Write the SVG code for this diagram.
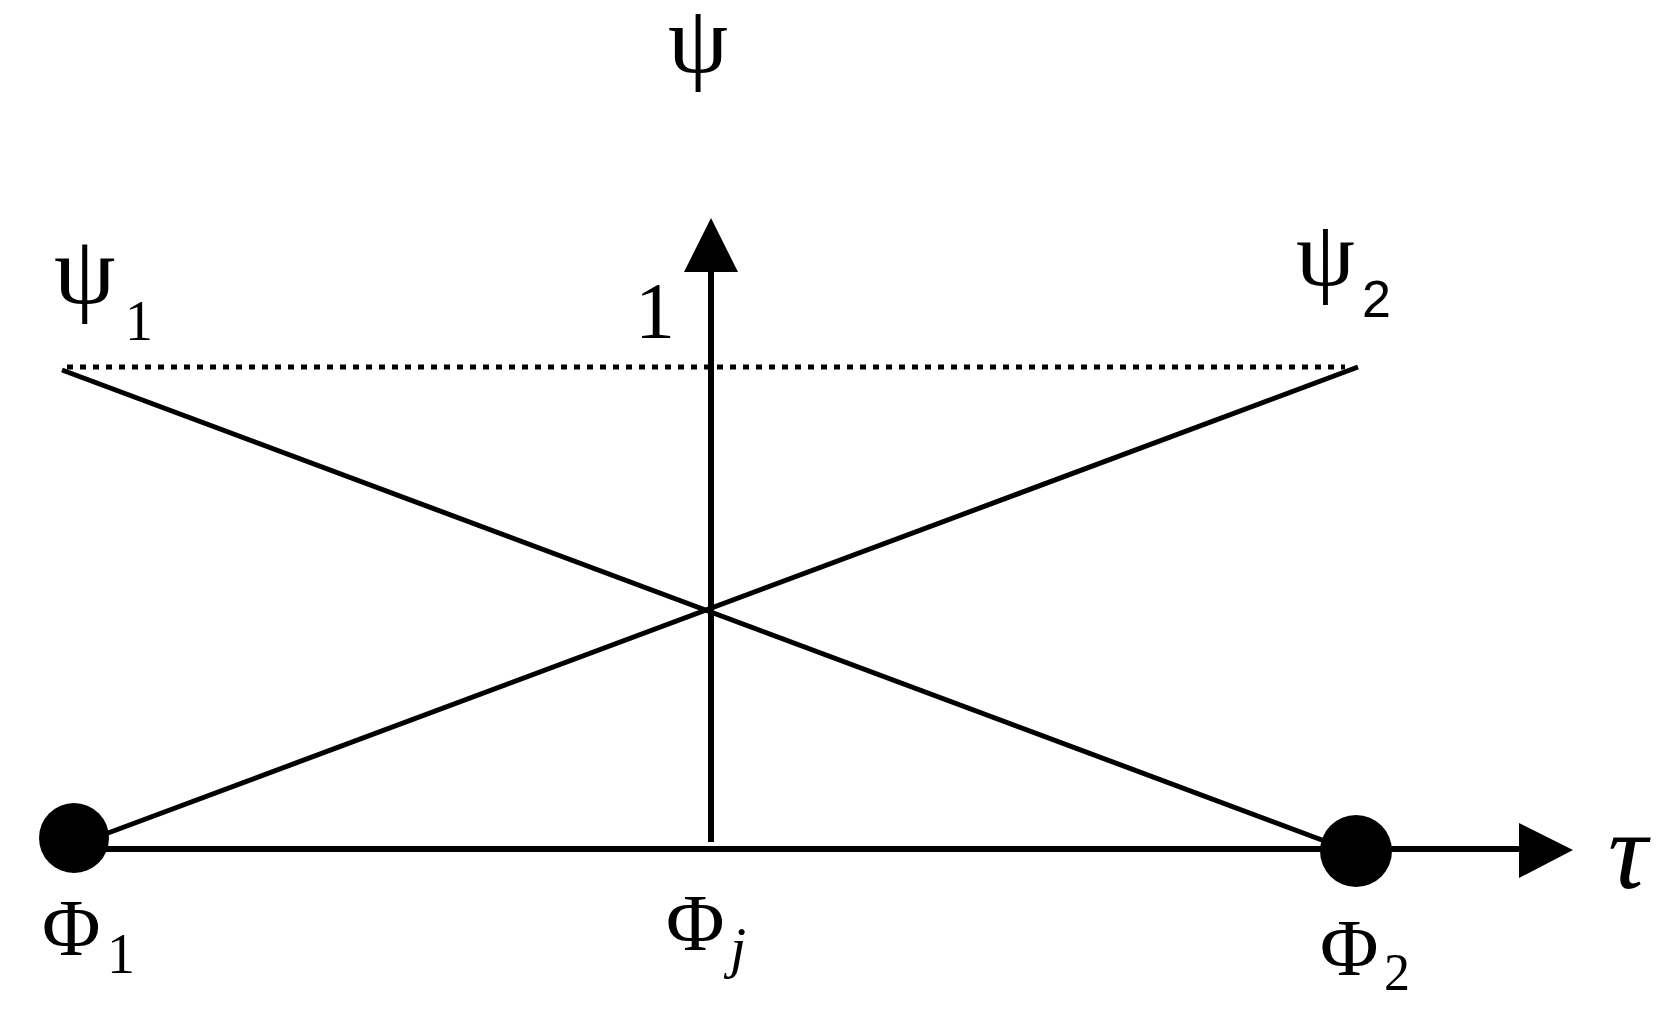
<svg xmlns="http://www.w3.org/2000/svg" width="1673" height="1023" viewBox="0 0 1673 1023">
<style>
.ln{stroke:#000;stroke-width:5;fill:none}
.ax{stroke:#000;stroke-width:6;fill:none}
.dot{stroke:#000;stroke-width:5;stroke-dasharray:6 7;fill:none}
.t{font-family:"Liberation Serif","DejaVu Serif",serif;fill:#000}
.ti{font-family:"Liberation Serif","DejaVu Serif",serif;font-style:italic;fill:#000}
</style>
<rect width="1673" height="1023" fill="#fff"/>
<g id="connectors">
<line class="dot" x1="67" y1="367" x2="1345" y2="367"/>
<line class="ln" x1="62" y1="370" x2="1330" y2="843"/>
<line class="ln" x1="100" y1="836" x2="1358" y2="367"/>
<line class="ax" x1="711" y1="842" x2="711" y2="270"/>
<polygon points="711,218 684,272 738,272" fill="#000"/>
<line class="ax" x1="100" y1="849" x2="1522" y2="849"/>
<polygon points="1573,850 1519,823 1519,878" fill="#000"/>
</g>
<g id="node-phi1"><circle cx="74" cy="838" r="35" fill="#000"/></g>
<g id="node-phi2"><circle cx="1356" cy="851" r="36" fill="#000"/></g>
<g id="labels">
<text class="t" x="668" y="72" font-size="96">ψ</text>
<text class="t" x="54" y="303" font-size="98">ψ</text>
<text class="t" x="125" y="340" font-size="56">1</text>
<text class="t" x="635" y="338" font-size="80">1</text>
<text class="t" x="1296" y="285" font-size="94">ψ</text>
<text x="1362" y="317" font-size="52" style="font-family:'Liberation Sans','DejaVu Sans',sans-serif">2</text>
<text class="t" x="42" y="955" font-size="80">Φ</text>
<text class="t" x="107" y="973" font-size="56">1</text>
<text class="t" x="666" y="950" font-size="80">Φ</text>
<text class="ti" x="730" y="967" font-size="58">j</text>
<text class="t" x="1320" y="975" font-size="80">Φ</text>
<text class="t" x="1384" y="990" font-size="52">2</text>
<text class="ti" x="1608" y="888" font-size="110">τ</text>
</g>
</svg>
